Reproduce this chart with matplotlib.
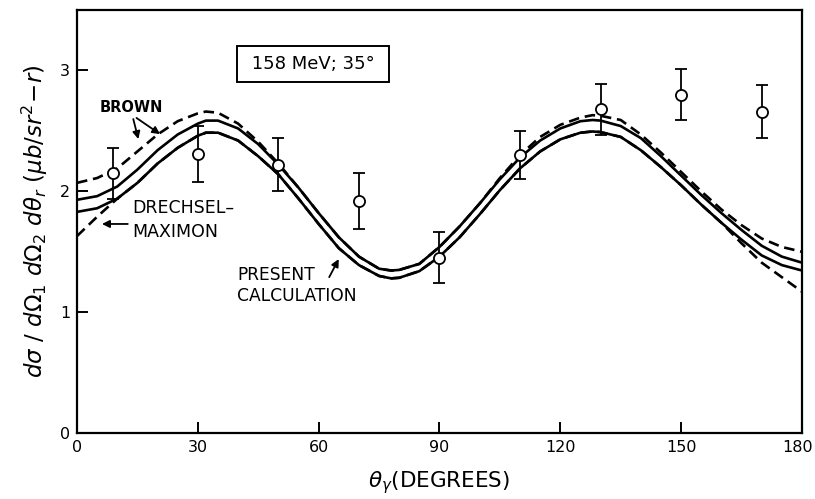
import matplotlib
matplotlib.use("Agg")
import matplotlib.pyplot as plt
import matplotlib.transforms as mtransforms

# measured points (open circles with error bars)
theta_pts = [9, 30, 50, 70, 90, 110, 130, 150, 170]
sigma_pts = [2.15, 2.31, 2.22, 1.92, 1.45, 2.30, 2.68, 2.80, 2.66]
sigma_err = [0.21, 0.23, 0.22, 0.23, 0.21, 0.20, 0.21, 0.21, 0.22]

# curves
theta = [0, 5, 10, 15, 20, 25, 30, 32, 35, 40, 45, 50, 55, 60, 65, 70, 75, 78,
         80, 85, 90, 95, 100, 105, 110, 115, 120, 125, 128, 130, 135, 140, 145,
         150, 155, 160, 165, 170, 175, 180]
brown_dashed = [2.07, 2.11, 2.19, 2.33, 2.47, 2.58, 2.645, 2.66, 2.65, 2.56, 2.41, 2.23,
                2.03, 1.82, 1.62, 1.46, 1.36, 1.345, 1.35, 1.40, 1.54, 1.71, 1.90,
                2.11, 2.30, 2.45, 2.55, 2.61, 2.63, 2.625, 2.59, 2.47, 2.32, 2.16,
                2.00, 1.85, 1.72, 1.61, 1.54, 1.50]
brown_solid = [1.93, 1.96, 2.04, 2.18, 2.34, 2.47, 2.56, 2.585, 2.585, 2.52, 2.39, 2.22,
               2.03, 1.82, 1.62, 1.46, 1.36, 1.345, 1.35, 1.40, 1.54, 1.71, 1.90,
               2.10, 2.28, 2.42, 2.52, 2.58, 2.59, 2.585, 2.54, 2.44, 2.29, 2.13,
               1.97, 1.82, 1.68, 1.55, 1.46, 1.41]
present = [1.83, 1.86, 1.94, 2.07, 2.23, 2.36, 2.46, 2.485, 2.485, 2.42, 2.29, 2.14,
           1.94, 1.73, 1.53, 1.39, 1.30, 1.28, 1.285, 1.34, 1.46, 1.62, 1.81,
           2.01, 2.19, 2.33, 2.43, 2.485, 2.495, 2.49, 2.45, 2.34, 2.20, 2.05,
           1.89, 1.74, 1.60, 1.47, 1.39, 1.345]
drechsel = [1.63, 1.79, 1.94, 2.07, 2.23, 2.36, 2.46, 2.485, 2.485, 2.42, 2.29, 2.14,
            1.94, 1.73, 1.53, 1.39, 1.30, 1.28, 1.285, 1.34, 1.46, 1.62, 1.81,
            2.01, 2.19, 2.33, 2.43, 2.485, 2.495, 2.49, 2.45, 2.34, 2.20, 2.05,
            1.89, 1.74, 1.57, 1.41, 1.29, 1.17]

xticks = [0, 30, 60, 90, 120, 150, 180]
yticks = [0, 1, 2, 3]

plt.rcParams['font.family'] = 'DejaVu Sans'
fig = plt.figure(figsize=(8.15, 4.99), dpi=100)
ax = fig.add_axes([0.0945, 0.132, 0.8895, 0.848])

lw = 1.9
ax.plot(theta, brown_dashed, color='black', lw=lw, ls=(0, (4, 2.2)))
ax.plot(theta, brown_solid, color='black', lw=lw)
ax.plot(theta, present, color='black', lw=lw)
ax.plot(theta, drechsel, color='black', lw=lw, ls=(0, (4, 2.2)))

ax.errorbar(theta_pts, sigma_pts, yerr=sigma_err, fmt='o', mfc='white', mec='black',
            mew=1.3, ms=8, ecolor='black', elinewidth=1.3, capsize=4.5, capthick=1.3,
            zorder=5)

ax.set_xlim(0, 180)
ax.set_ylim(0, 3.5)
ax.set_xticks(xticks)
ax.set_yticks(yticks)
ax.tick_params(direction='in', length=8, width=1.4, labelsize=11.5, pad=5,
               top=False, right=False)
for s in ax.spines.values():
    s.set_linewidth(1.6)

# last x tick label sits on the figure edge, nudge it in a little
last = ax.get_xticklabels()[-1]
last.set_transform(last.get_transform() +
                   mtransforms.ScaledTranslation(-4 / 100, 0, fig.dpi_scale_trans))

# annotations
ax.text(58.6, 3.05, ' 158 MeV; 35° ', fontsize=13, ha='center', va='center',
        bbox=dict(boxstyle='square,pad=0.5', fc='white', ec='black', lw=1.4))
ax.text(13.5, 2.69, 'BROWN', fontsize=10.5, fontweight='bold', ha='center', va='center')
ax.annotate('', xy=(15.4, 2.41), xytext=(13.8, 2.62),
            arrowprops=dict(arrowstyle='-|>', color='black', lw=1.3, mutation_scale=11))
ax.annotate('', xy=(21.2, 2.46), xytext=(14.2, 2.62),
            arrowprops=dict(arrowstyle='-|>', color='black', lw=1.3, mutation_scale=11))
ax.text(13.8, 1.765, 'DRECHSEL–\nMAXIMON', fontsize=12.5, ha='left', va='center',
        linespacing=1.4)
ax.annotate('', xy=(5.5, 1.73), xytext=(13.3, 1.73),
            arrowprops=dict(arrowstyle='-|>', color='black', lw=1.3, mutation_scale=11))
ax.text(39.8, 1.22, 'PRESENT\nCALCULATION', fontsize=12.3, ha='left', va='center',
        linespacing=1.2)
ax.annotate('', xy=(65.3, 1.46), xytext=(62.3, 1.27),
            arrowprops=dict(arrowstyle='-|>', color='black', lw=1.3, mutation_scale=11))

ax.set_xlabel(r'$\theta_\gamma$(DEGREES)', fontsize=15.5, labelpad=10)
ax.set_ylabel(r'$d\sigma\ /\ d\Omega_1\ d\Omega_2\ d\theta_r\ (\mu b/sr^2\!-\!r)$',
              fontsize=16.5, labelpad=7)

fig.savefig('out.png', dpi=100, facecolor='white')
